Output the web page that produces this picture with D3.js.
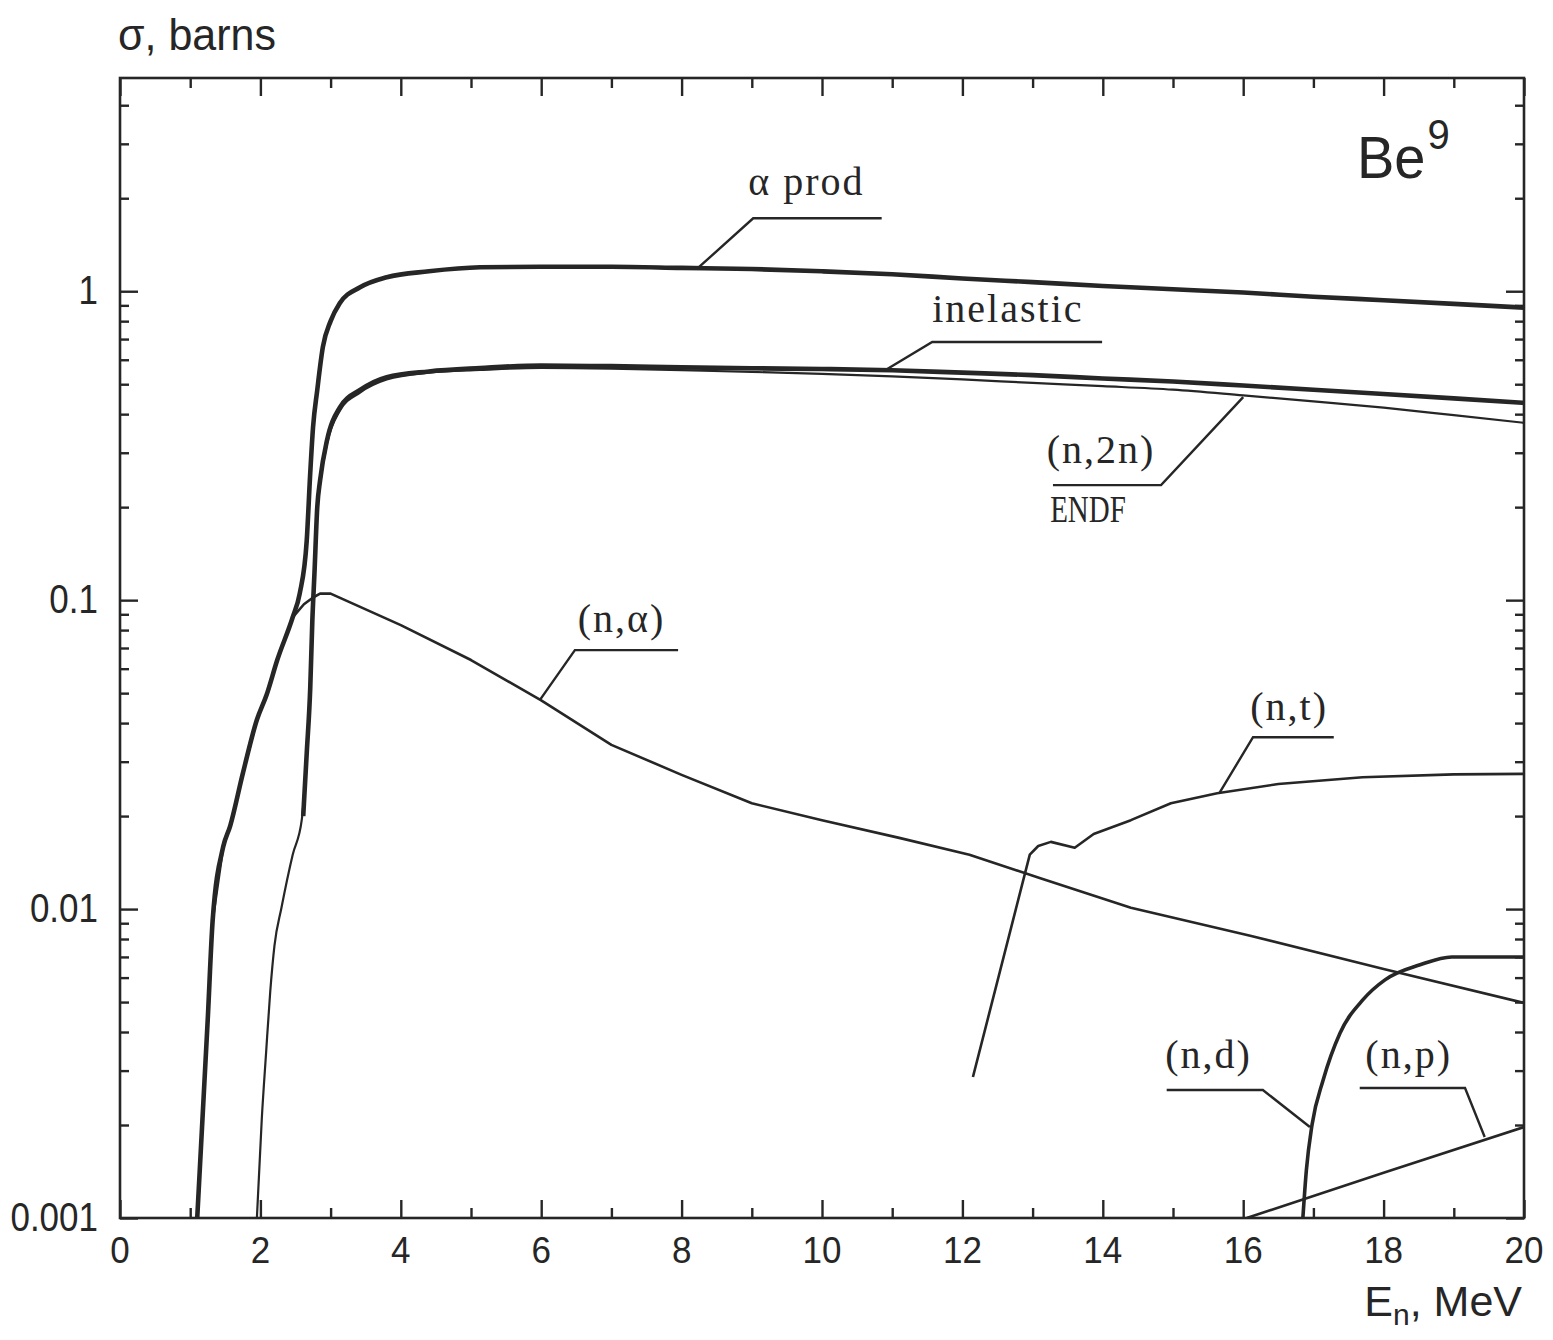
<!DOCTYPE html>
<html>
<head>
<meta charset="utf-8">
<script src="https://cdn.jsdelivr.net/npm/d3@7"></script>
<style>
  html, body { margin: 0; padding: 0; background: #ffffff; }
  svg { display: block; }
</style>
</head>
<body>
<svg id="chart" width="1553" height="1340"></svg>
<script>
// ---------------- data ----------------
// Neutron energy E (MeV) and cross section sigma (barns) for Be9 reactions

const alphaProdE = [1.10, 1.25, 1.32, 1.47, 1.57, 1.75, 1.95, 2.09, 2.24, 2.46, 2.56, 2.66, 2.71, 2.75, 2.81, 2.89, 3.00, 3.13, 3.42, 3.80, 4.40, 5.13, 6, 7, 8, 9, 10, 11, 12, 13, 14, 15, 16, 17, 18, 19, 20];
const alphaProdS = [0.001, 0.0044, 0.0092, 0.0159, 0.0186, 0.0275, 0.041, 0.0495, 0.064, 0.088, 0.105, 0.156, 0.258, 0.363, 0.479, 0.66, 0.80, 0.914, 1.03, 1.11, 1.16, 1.195, 1.20, 1.20, 1.19, 1.18, 1.16, 1.135, 1.10, 1.07, 1.04, 1.015, 0.99, 0.96, 0.935, 0.91, 0.885];

const inelasticE = [2.61, 2.66, 2.71, 2.74, 2.77, 2.81, 2.85, 2.95, 3.13, 3.42, 3.80, 4.40, 5.13, 6, 7, 8, 9, 10, 11, 12, 13, 14, 15, 16, 17, 18, 19, 20];
const inelasticS = [0.020, 0.032, 0.052, 0.086, 0.122, 0.20, 0.244, 0.33, 0.42, 0.479, 0.527, 0.55, 0.564, 0.575, 0.572, 0.567, 0.563, 0.56, 0.555, 0.545, 0.535, 0.522, 0.51, 0.495, 0.48, 0.465, 0.45, 0.435];

const n2nE = [1.95, 2.02, 2.08, 2.14, 2.20, 2.30, 2.46, 2.59, 2.66, 2.71, 2.74, 2.77, 2.81, 2.85, 2.95, 3.13, 3.42, 3.80, 4.40, 5.13, 6, 7, 8, 9, 10, 11, 12, 13, 14, 15, 16, 17, 18, 19, 20];
const n2nS = [0.001, 0.0021, 0.0034, 0.0054, 0.0076, 0.0101, 0.0150, 0.0195, 0.031, 0.050, 0.083, 0.118, 0.195, 0.238, 0.322, 0.41, 0.47, 0.518, 0.545, 0.556, 0.565, 0.562, 0.555, 0.548, 0.54, 0.53, 0.518, 0.505, 0.493, 0.48, 0.46, 0.44, 0.42, 0.397, 0.375];

const nAlphaE = [1.10, 1.25, 1.32, 1.47, 1.57, 1.75, 1.95, 2.09, 2.24, 2.46, 2.62, 2.75, 2.85, 3.00, 4.0, 5.0, 6.0, 7.0, 8.0, 9.0, 10.0, 11.1, 12.1, 13.1, 14.4, 16.1, 18.0, 20.0];
const nAlphaS = [0.001, 0.0044, 0.0092, 0.0159, 0.0186, 0.0275, 0.041, 0.0495, 0.064, 0.088, 0.097, 0.102, 0.105, 0.105, 0.083, 0.064, 0.0474, 0.034, 0.0272, 0.022, 0.0194, 0.017, 0.015, 0.0126, 0.0101, 0.0082, 0.0064, 0.00497];

const ntE = [12.15, 12.96, 13.08, 13.26, 13.60, 13.87, 14.40, 14.97, 15.63, 16.50, 17.70, 19.0, 20.0];
const ntS = [0.00286, 0.0150, 0.0160, 0.0165, 0.0158, 0.0175, 0.0194, 0.0220, 0.0237, 0.0254, 0.0267, 0.0273, 0.0274];

const ndE = [16.85, 16.90, 16.98, 17.14, 17.38, 17.71, 18.02, 18.52, 18.97, 20.0];
const ndS = [0.001, 0.00143, 0.0020, 0.0028, 0.00397, 0.0051, 0.0059, 0.0066, 0.0070, 0.0070];

const npE = [16.05, 18.0, 20.0];
const npS = [0.001, 0.0014, 0.00197];

// axis ticks and labels
const xMajorTicks = [0, 2, 4, 6, 8, 10, 12, 14, 16, 18, 20];
const xMinorTicks = [1, 3, 5, 7, 9, 11, 13, 15, 17, 19];
const xTickLabels = ["0", "2", "4", "6", "8", "10", "12", "14", "16", "18", "20"];
const yMajorTicks = [0.001, 0.01, 0.1, 1];
const yTickLabels = ["0.001", "0.01", "0.1", "1"];

// curve labels: text, label anchor (E, sigma), leader polyline in data units
const labelTexts = ["α prod", "inelastic", "(n,2n)", "(n,α)", "(n,t)", "(n,d)", "(n,p)"];
const labelAnchorE = [8.95, 11.57, 13.20, 6.52, 16.10, 14.89, 17.74];
const labelAnchorS = [2.045, 0.794, 0.2776, 0.0788, 0.0409, 0.003057, 0.003057];
const leaderE = [[8.23, 9.02, 10.85], [10.90, 11.57, 13.99], [16.0, 14.83, 13.29], [5.98, 6.48, 7.95], [15.66, 16.14, 17.29], [14.91, 16.28, 16.95], [17.66, 19.16, 19.44]];
const leaderS = [[1.187, 1.722, 1.722], [0.555, 0.685, 0.685], [0.454, 0.2356, 0.2356], [0.04747, 0.0689, 0.0689], [0.02373, 0.0360, 0.0360], [0.002596, 0.002596, 0.00197], [0.002634, 0.002634, 0.001829]];

// ---------------- drawing ----------------
const ink = "#262626";
const sans = "'Liberation Sans', Arimo, Arial, sans-serif";
const serif = "'Liberation Serif', 'Times New Roman', serif";

const svg = d3.select("#chart");
svg.append("rect").attr("width", 1553).attr("height", 1340).attr("fill", "#ffffff");

const x = d3.scaleLinear().domain([0, 20]).range([120, 1524]);
const y = d3.scaleLog().domain([0.001, 4.9]).range([1218, 78]);
const [x0, x1] = x.range();
const yBot = y(0.001), yTop = y(4.9);

// clip
svg.append("defs").append("clipPath").attr("id", "plotclip")
  .append("rect").attr("x", x0).attr("y", yTop).attr("width", x1 - x0).attr("height", yBot - yTop);

// axes with inward ticks on all four sides
const axG = svg.append("g");
function addAxis(axis, tx, ty, ticks, size) {
  const g = axG.append("g").attr("transform", `translate(${tx},${ty})`)
    .call(axis.tickValues(ticks).tickSize(size).tickFormat(""));
  g.select(".domain").remove();
  g.selectAll(".tick line").attr("stroke", ink).attr("stroke-width", 2.4);
  g.selectAll(".tick text").remove();
}
const yMinorTicks = y.ticks().filter(t => !yMajorTicks.some(m => Math.abs(Math.log10(m) - Math.log10(t)) < 1e-6));
addAxis(d3.axisBottom(x), 0, yBot, xMajorTicks, -18);
addAxis(d3.axisBottom(x), 0, yBot, xMinorTicks, -10);
addAxis(d3.axisTop(x), 0, yTop, xMajorTicks, -18);
addAxis(d3.axisTop(x), 0, yTop, xMinorTicks, -10);
addAxis(d3.axisLeft(y), x0, 0, yMajorTicks, -18);
addAxis(d3.axisLeft(y), x0, 0, yMinorTicks, -9);
addAxis(d3.axisRight(y), x1, 0, yMajorTicks, -18);
addAxis(d3.axisRight(y), x1, 0, yMinorTicks, -9);

// frame
svg.append("rect").attr("x", x0).attr("y", yTop).attr("width", x1 - x0).attr("height", yBot - yTop)
  .attr("fill", "none").attr("stroke", ink).attr("stroke-width", 2.6);

// helper for (slightly tall) text
function txt(g, px, py, str, size, family, anchor, sy, extra) {
  const t = g.append("text")
    .attr("transform", `translate(${px},${py}) scale(1,${sy})`)
    .attr("font-family", family).attr("font-size", size)
    .attr("fill", ink).attr("text-anchor", anchor).text(str);
  if (extra) extra(t);
  return t;
}

// tick labels
const tl = svg.append("g");
xMajorTicks.forEach((v, i) => txt(tl, x(v), yBot + 45, xTickLabels[i], 35, sans, "middle", 1.05));
yMajorTicks.forEach((v, i) => txt(tl, x0 - 22, y(v) + 13, yTickLabels[i], 35, sans, "end", 1.15));

// axis titles
txt(svg, x0 - 2, 50, "σ, barns", 43, sans, "start", 1.05);
const et = svg.append("text").attr("transform", `translate(${x1 - 2},1316)`)
  .attr("font-family", sans).attr("font-size", 43).attr("fill", ink).attr("text-anchor", "end");
et.append("tspan").text("E");
et.append("tspan").attr("font-size", 30).attr("dy", 9).text("n");
et.append("tspan").attr("dy", -9).text(", MeV");

// Be9 marker
const be = svg.append("text").attr("transform", `translate(${x(17.62)},${y(2.32)}) scale(1,1.05)`)
  .attr("font-family", sans).attr("font-size", 56).attr("fill", ink);
be.append("tspan").text("Be");
be.append("tspan").attr("font-size", 40).attr("dy", -28).attr("dx", 2).text("9");

// curves
const series = [
  { E: nAlphaE, S: nAlphaS, w: 2.6, curve: d3.curveLinear },
  { E: n2nE, S: n2nS, w: 2.2, curve: d3.curveMonotoneX },
  { E: inelasticE, S: inelasticS, w: 4.6, curve: d3.curveMonotoneX },
  { E: alphaProdE, S: alphaProdS, w: 4.6, curve: d3.curveMonotoneX },
  { E: ntE, S: ntS, w: 2.6, curve: d3.curveLinear },
  { E: ndE, S: ndS, w: 3.6, curve: d3.curveMonotoneX },
  { E: npE, S: npS, w: 2.6, curve: d3.curveLinear }
];
const cg = svg.append("g").attr("clip-path", "url(#plotclip)");
series.forEach(s => {
  const pts = s.E.map((e, i) => [e, s.S[i]]);
  cg.append("path").datum(pts)
    .attr("d", d3.line().x(d => x(d[0])).y(d => y(d[1])).curve(s.curve))
    .attr("fill", "none").attr("stroke", ink).attr("stroke-width", s.w)
    .attr("stroke-linejoin", "round").attr("stroke-linecap", "butt");
});

// leaders and labels
const lg = svg.append("g");
leaderE.forEach((es, i) => {
  const pts = es.map((e, j) => [e, leaderS[i][j]]);
  lg.append("path").datum(pts)
    .attr("d", d3.line().x(d => x(d[0])).y(d => y(d[1])))
    .attr("fill", "none").attr("stroke", ink).attr("stroke-width", 2.4);
});
labelTexts.forEach((t, i) => {
  txt(lg, x(labelAnchorE[i]), y(labelAnchorS[i]), t, 40, serif, "start", 1.0,
      el => el.attr("letter-spacing", 2));
});
txt(lg, x(13.25), y(0.1788), "ENDF", 29, serif, "start", 1.3, el => el.attr("letter-spacing", 0));
</script>
</body>
</html>
